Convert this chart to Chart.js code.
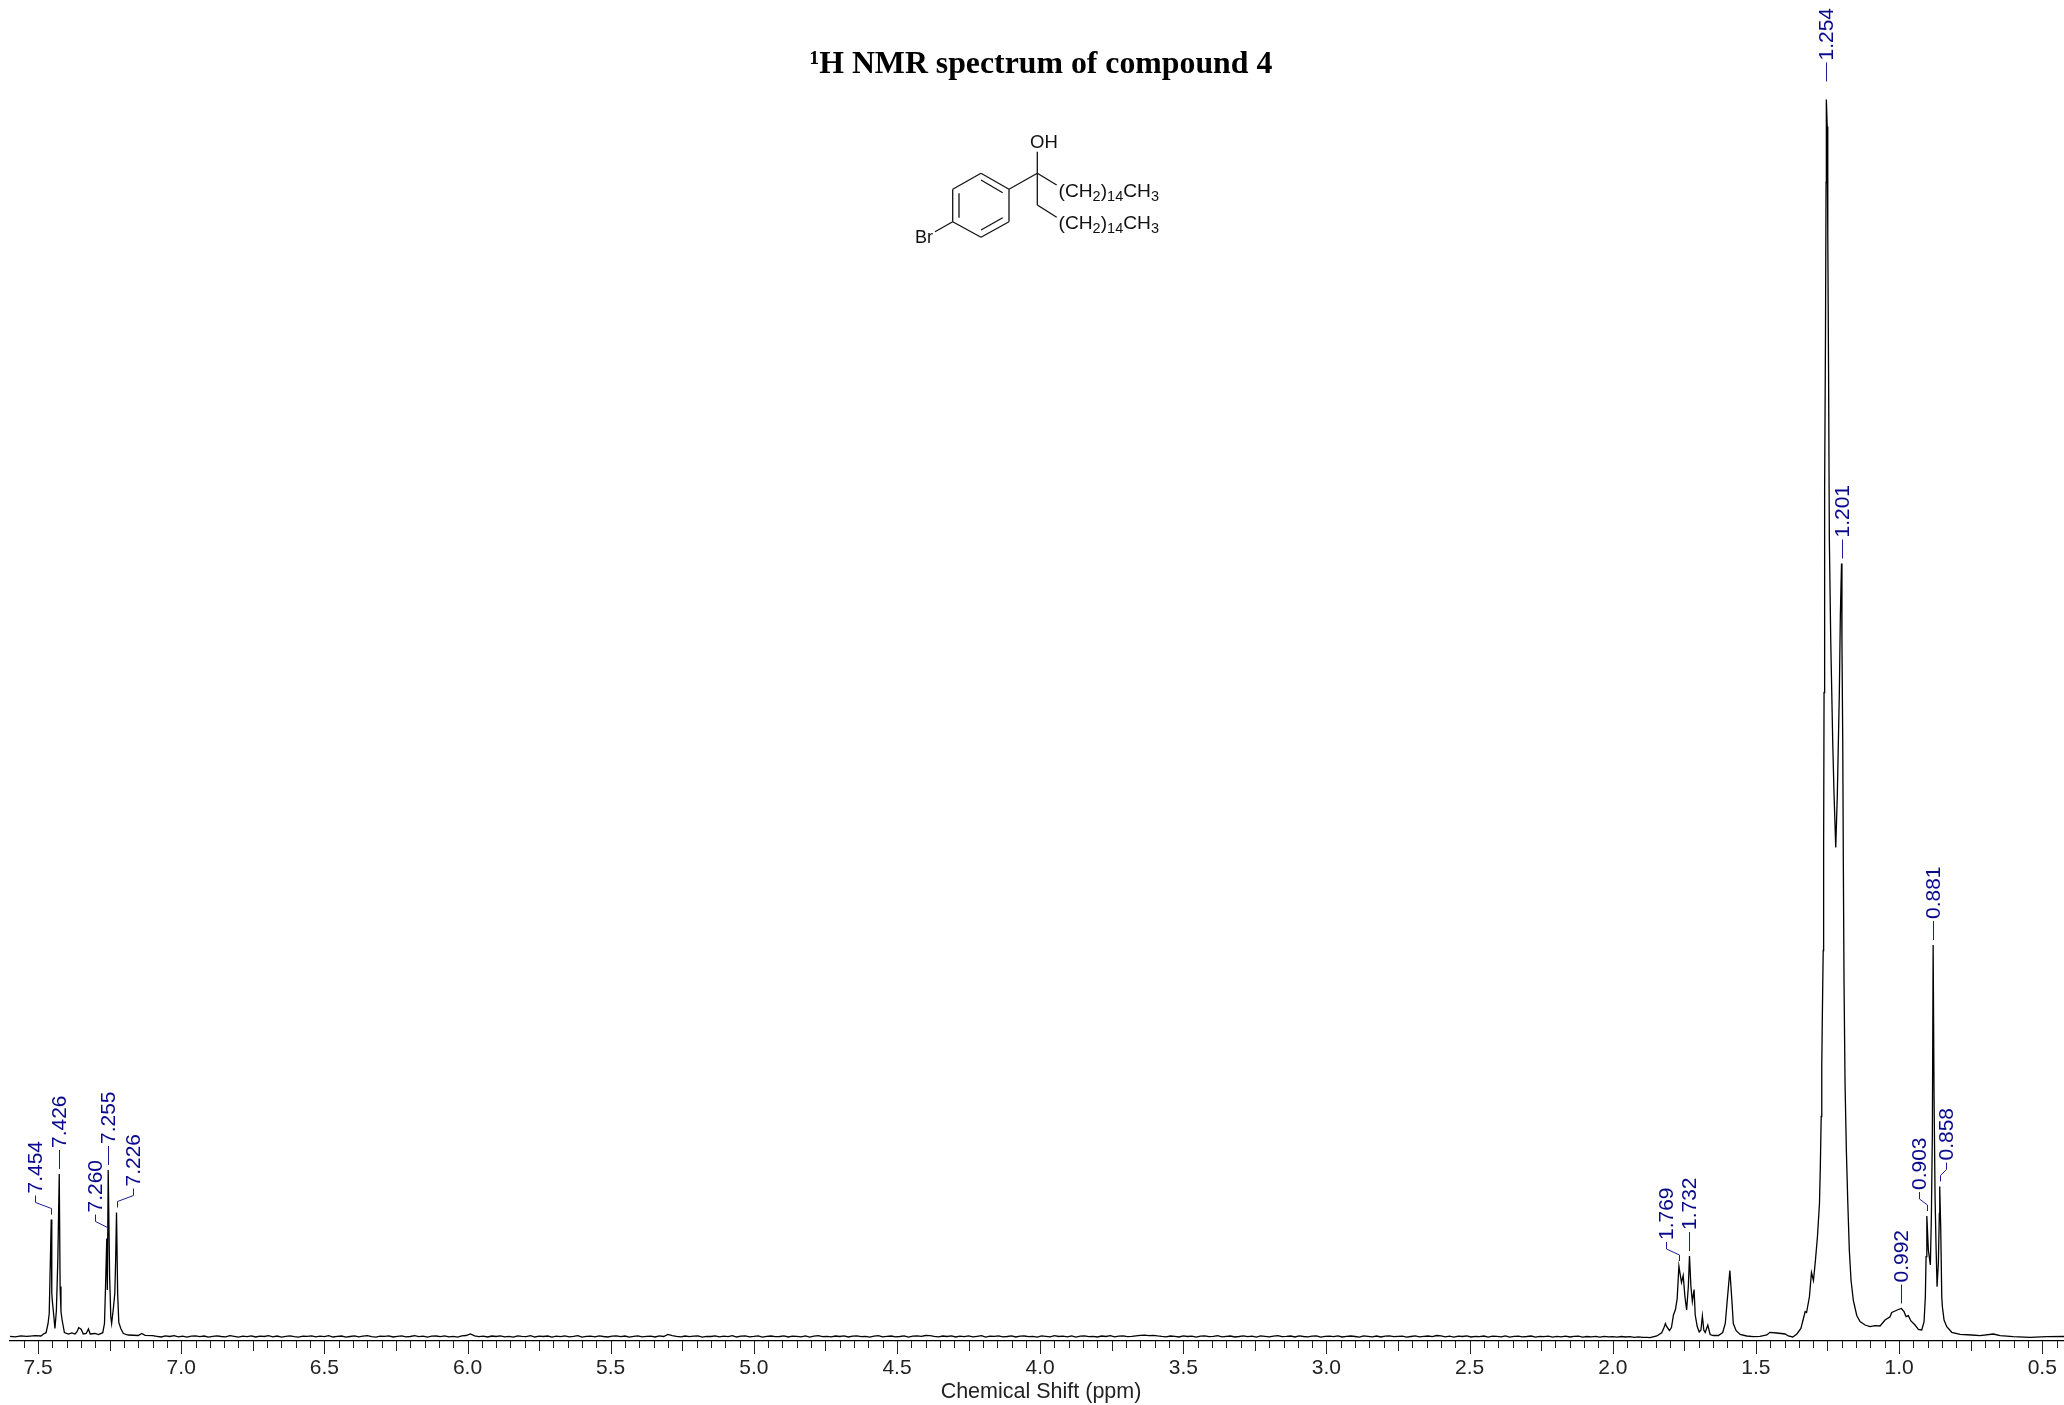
<!DOCTYPE html>
<html>
<head>
<meta charset="utf-8">
<title>1H NMR spectrum of compound 4</title>
<script src="https://cdn.jsdelivr.net/npm/chart.js@4"></script>
<style>
  html, body { margin: 0; padding: 0; background: #fff; overflow: hidden; }
  #wrap { position: relative; width: 2072px; height: 1405px; }
  #structure { position: absolute; left: 0; top: 0; }
  #structure text { font-family: "Liberation Sans", Arial, sans-serif; fill: #111; }
  #structure line { stroke: #111; stroke-width: 1.3; }
</style>
</head>
<body>
<div id="wrap">
  <canvas id="nmrChart" width="2072" height="1405"></canvas>
  <svg id="structure" width="2064" height="300">
    <line x1="981" y1="173.3" x2="1009" y2="189.3"/><line x1="1009" y1="189.3" x2="1009" y2="221.7"/>
    <line x1="1009" y1="221.7" x2="981" y2="237.3"/><line x1="981" y1="237.3" x2="952.7" y2="221.7"/>
    <line x1="952.7" y1="221.7" x2="952.7" y2="189.3"/><line x1="952.7" y1="189.3" x2="981" y2="173.3"/>
    <line x1="981" y1="180" x2="1002.7" y2="192.7"/><line x1="959" y1="193.3" x2="959" y2="217.7"/>
    <line x1="981" y1="230" x2="1002.7" y2="217.7"/>
    <line x1="1009" y1="189.3" x2="1037.3" y2="173.3"/><line x1="1037.3" y1="173.3" x2="1037.3" y2="151.7"/>
    <line x1="1037.3" y1="173.3" x2="1056.7" y2="185"/><line x1="1037.3" y1="173.3" x2="1037.3" y2="205"/>
    <line x1="1037.3" y1="205" x2="1056.7" y2="217.3"/><line x1="952.7" y1="221.7" x2="935" y2="231.7"/>
    <text x="1030" y="148" font-size="18.5">OH</text>
    <text x="915" y="243" font-size="18">Br</text>
    <text x="1058.5" y="197" font-size="19.2">(CH<tspan font-size="14.5" dy="4">2</tspan><tspan dy="-4">)</tspan><tspan font-size="14.5" dy="4">14</tspan><tspan dy="-4">CH</tspan><tspan font-size="14.5" dy="4">3</tspan></text>
    <text x="1058.5" y="229" font-size="19.2">(CH<tspan font-size="14.5" dy="4">2</tspan><tspan dy="-4">)</tspan><tspan font-size="14.5" dy="4">14</tspan><tspan dy="-4">CH</tspan><tspan font-size="14.5" dy="4">3</tspan></text>
  </svg>
</div>
<script>
// chemical shift in ppm, intensity in arbitrary units (tallest peak about 1237)
const aromaticPpm = [7.598, 7.58, 7.56, 7.54, 7.528, 7.51, 7.49, 7.481, 7.472, 7.465, 7.461, 7.454, 7.452, 7.450, 7.447, 7.441, 7.436, 7.431, 7.426, 7.423, 7.420, 7.416, 7.408, 7.394, 7.382, 7.371, 7.364, 7.358, 7.353, 7.349, 7.342, 7.332, 7.324, 7.318, 7.301, 7.289, 7.274, 7.268, 7.265, 7.260, 7.258, 7.255, 7.250, 7.246, 7.243, 7.237, 7.232, 7.229, 7.226, 7.222, 7.218, 7.211, 7.202, 7.185, 7.150, 7.138, 7.126];
const aromaticIntensity = [0.2, -0.3, 0.6, 0.1, 0.4, 0.9, 0.5, 2.5, 3.8, 13, 23, 117, 43, 35, 26.5, 8, 26, 76, 162.5, 50, 25, 16.5, 4, 2.5, 3.5, 2.5, 4.8, 8.8, 8, 7, 2.5, 3, 7.5, 2.5, 3, 2, 3.8, 13, 43, 98, 46.5, 166.5, 60, 20, 13, 28, 43, 76, 124, 43, 14, 8, 3, 1.5, 1, 3, 1.2];

const baselinePpm = [
  7.100, 7.085, 7.070, 7.055, 7.040, 7.025, 7.010, 6.995,
  6.980, 6.965, 6.950, 6.935, 6.920, 6.905, 6.890, 6.875,
  6.860, 6.845, 6.830, 6.815, 6.800, 6.785, 6.770, 6.755,
  6.740, 6.725, 6.710, 6.695, 6.680, 6.665, 6.650, 6.635,
  6.620, 6.605, 6.590, 6.575, 6.560, 6.545, 6.530, 6.515,
  6.500, 6.485, 6.470, 6.455, 6.440, 6.425, 6.410, 6.395,
  6.380, 6.365, 6.350, 6.335, 6.320, 6.305, 6.290, 6.275,
  6.260, 6.245, 6.230, 6.215, 6.200, 6.185, 6.170, 6.155,
  6.140, 6.125, 6.110, 6.095, 6.080, 6.065, 6.050, 6.035,
  6.020, 6.005, 5.990, 5.975, 5.960, 5.945, 5.930, 5.915,
  5.900, 5.885, 5.870, 5.855, 5.840, 5.825, 5.810, 5.795,
  5.780, 5.765, 5.750, 5.735, 5.720, 5.705, 5.690, 5.675,
  5.660, 5.645, 5.630, 5.615, 5.600, 5.585, 5.570, 5.555,
  5.540, 5.525, 5.510, 5.495, 5.480, 5.465, 5.450, 5.435,
  5.420, 5.405, 5.390, 5.375, 5.360, 5.345, 5.330, 5.315,
  5.300, 5.285, 5.270, 5.255, 5.240, 5.225, 5.210, 5.195,
  5.180, 5.165, 5.150, 5.135, 5.120, 5.105, 5.090, 5.075,
  5.060, 5.045, 5.030, 5.015, 5.000, 4.985, 4.970, 4.955,
  4.940, 4.925, 4.910, 4.895, 4.880, 4.865, 4.850, 4.835,
  4.820, 4.805, 4.790, 4.775, 4.760, 4.745, 4.730, 4.715,
  4.700, 4.685, 4.670, 4.655, 4.640, 4.625, 4.610, 4.595,
  4.580, 4.565, 4.550, 4.535, 4.520, 4.505, 4.490, 4.475,
  4.460, 4.445, 4.430, 4.415, 4.400, 4.385, 4.370, 4.355,
  4.340, 4.325, 4.310, 4.295, 4.280, 4.265, 4.250, 4.235,
  4.220, 4.205, 4.190, 4.175, 4.160, 4.145, 4.130, 4.115,
  4.100, 4.085, 4.070, 4.055, 4.040, 4.025, 4.010, 3.995,
  3.980, 3.965, 3.950, 3.935, 3.920, 3.905, 3.890, 3.875,
  3.860, 3.845, 3.830, 3.815, 3.800, 3.785, 3.770, 3.755,
  3.740, 3.725, 3.710, 3.695, 3.680, 3.665, 3.650, 3.635,
  3.620, 3.605, 3.590, 3.575, 3.560, 3.545, 3.530, 3.515,
  3.500, 3.485, 3.470, 3.455, 3.440, 3.425, 3.410, 3.395,
  3.380, 3.365, 3.350, 3.335, 3.320, 3.305, 3.290, 3.275,
  3.260, 3.245, 3.230, 3.215, 3.200, 3.185, 3.170, 3.155,
  3.140, 3.125, 3.110, 3.095, 3.080, 3.065, 3.050, 3.035,
  3.020, 3.005, 2.990, 2.975, 2.960, 2.945, 2.930, 2.915,
  2.900, 2.885, 2.870, 2.855, 2.840, 2.825, 2.810, 2.795,
  2.780, 2.765, 2.750, 2.735, 2.720, 2.705, 2.690, 2.675,
  2.660, 2.645, 2.630, 2.615, 2.600, 2.585, 2.570, 2.555,
  2.540, 2.525, 2.510, 2.495, 2.480, 2.465, 2.450, 2.435,
  2.420, 2.405, 2.390, 2.375, 2.360, 2.345, 2.330, 2.315,
  2.300, 2.285, 2.270, 2.255, 2.240, 2.225, 2.210, 2.195,
  2.180, 2.165, 2.150, 2.135, 2.120, 2.105, 2.090, 2.075,
  2.060, 2.045, 2.030, 2.015, 2.000, 1.985, 1.970, 1.955,
  1.940, 1.925, 1.910, 1.895, 1.880
];
const baselineIntensity = [
  0.9, 0.2, -0.5, 0.6, 0.0, 0.8, -0.3, 0.4,
  -0.6, 0.3, 0.7, -0.2, 0.5, -0.7, 0.1, 0.6,
  0.0, -0.4, 0.8, 0.2, -0.6, 0.4, -0.1, 0.7,
  -0.5, 0.3, 0.0, 0.8, -0.3, 0.5, -0.7, 0.2,
  0.6, -0.2, -0.6, 0.4, 0.1, 0.7, -0.4, 0.3,
  -0.1, 0.8, -0.5, 0.2, 0.5, -0.7, 0.0, 0.6,
  -0.3, 0.4, 0.9, -0.2, -0.6, 0.3, 0.1, 0.7,
  -0.5, 0.2, 0.6, -0.4, 0.0, 0.8, -0.2, 0.4,
  -0.7, 0.3, 0.5, -0.1, 0.7, -0.4, 0.2, -0.6,
  0.6, 1.0, 2.6, 0.7, -0.2, 0.3, -0.5, 0.5,
  0.0, 0.7, -0.4, 0.2, -0.6, 0.6, 0.1, -0.2,
  0.8, -0.5, 0.3, 0.0, 0.5, -0.7, 0.4, -0.1,
  0.6, -0.3, 0.2, 0.8, -0.6, 0.1, 0.4, -0.4,
  0.7, 0.0, -0.5, 0.3, 0.6, -0.2, 0.5, -0.6,
  0.2, 0.7, -0.3, 0.1, 0.4, -0.5, 0.6, 0.0,
  2.1, 0.8, 0.1, -0.4, 0.5, -0.2, 0.3, 0.7,
  -0.6, 0.2, 0.0, 0.6, -0.4, 0.4, -0.1, 0.8,
  -0.5, 0.3, 0.6, -0.3, 0.1, 0.7, -0.6, 0.2,
  0.5, -0.2, 0.0, 0.7, -0.5, 0.4, 0.1, -0.3,
  0.6, -0.6, 0.3, 0.8, -0.1, 0.2, -0.4, 0.5,
  0.0, 0.6, -0.5, 0.3, 0.7, -0.2, 0.1, -0.6,
  0.4, 0.8, -0.3, 0.2, 0.5, -0.4, 0.0, 0.6,
  -0.7, 0.3, 0.7, 0.2, 1.0, 0.9, 0.2, -0.3,
  0.5, 0.0, 0.7, -0.5, 0.3, -0.1, 0.6, -0.4,
  0.2, 0.8, -0.6, 0.4, 0.1, 0.6, -0.3, 0.0,
  0.7, -0.5, 0.3, 0.5, -0.2, 0.1, -0.6, 0.6,
  0.2, -0.4, 0.8, 0.0, 0.4, -0.3, 0.6, -0.6,
  0.3, 0.7, -0.1, 0.2, -0.5, 0.5, 0.0, 0.8,
  -0.4, 0.3, 0.6, -0.2, 0.1, 0.7, 1.1, 1.4,
  0.9, 1.2, 0.6, 0.1, -0.3, 0.5, 0.2, -0.5,
  0.7, 0.0, 0.4, -0.6, 0.3, 0.6, -0.2, 0.1,
  0.8, -0.4, 0.2, 0.5, -0.5, 0.0, 0.7, -0.1,
  0.3, -0.6, 0.6, 0.2, -0.3, 0.4, 0.8, -0.2,
  0.1, 0.5, -0.5, 0.7, 0.0, -0.4, 0.3, 0.6,
  -0.6, 0.2, 0.4, -0.1, 0.7, -0.5, 0.1, 0.5,
  0.0, -0.6, 0.6, 0.2, -0.3, 0.5, -0.5, 0.3,
  0.7, -0.2, 0.1, 0.4, -0.6, 0.0, 0.6, -0.4,
  0.2, 0.5, -0.1, 1.0, 0.6, -0.3, 0.3, -0.6,
  0.4, 0.0, 0.6, -0.5, 0.2, -0.2, 0.5, -0.7,
  0.3, 0.1, -0.4, 0.6, -0.6, 0.2, 0.4, -0.3,
  0.0, 0.5, -0.6, 0.1, -0.2, 0.4, -0.7, 0.2,
  -0.3, 0.3, -0.5, 0.1, 0.4, -0.6, 0.0, -0.3,
  0.2, -0.6, 0.1, -0.4, -0.1, -0.7, 0.0, -0.5,
  -0.2, -0.8, -0.3, -0.9, -0.8
];

const alkylPpm = [1.870, 1.846, 1.829, 1.821, 1.816, 1.812, 1.802, 1.795, 1.788, 1.781, 1.775, 1.769, 1.765, 1.760, 1.754, 1.748, 1.742, 1.736, 1.732, 1.727, 1.722, 1.716, 1.712, 1.705, 1.698, 1.692, 1.687, 1.682, 1.677, 1.668, 1.660, 1.649, 1.631, 1.616, 1.607, 1.600, 1.591, 1.584, 1.579, 1.569, 1.555, 1.532, 1.509, 1.486, 1.462, 1.451, 1.427, 1.398, 1.387, 1.371, 1.357, 1.343, 1.334, 1.328, 1.323, 1.313, 1.306, 1.299, 1.292, 1.285, 1.278, 1.275, 1.272, 1.270, 1.268, 1.265, 1.264, 1.263, 1.262, 1.260, 1.257, 1.255, 1.254, 1.251, 1.249, 1.246, 1.2435, 1.2386, 1.2316, 1.2271, 1.2212, 1.2156, 1.2086, 1.2051, 1.201, 1.1995, 1.1967, 1.1946, 1.1922, 1.1887, 1.1841, 1.1793, 1.1737, 1.1677, 1.1597, 1.1478, 1.1363, 1.1188, 1.1014, 1.0839, 1.0664, 1.049, 1.0315, 1.0256, 1.014, 1.0025, 0.992, 0.9826, 0.9756, 0.9676, 0.9592, 0.9442, 0.9326, 0.9208, 0.9127, 0.9082, 0.9057, 0.903, 0.8977, 0.8907, 0.8872, 0.8837, 0.881, 0.8778, 0.8743, 0.8708, 0.8673, 0.8628, 0.8593, 0.858, 0.8544, 0.8509, 0.8488, 0.8429, 0.8334, 0.816, 0.787, 0.746, 0.717, 0.671, 0.647, 0.601, 0.5425, 0.484, 0.424, 0.396];
const alkylIntensity = [-1.2, 0.5, 3.8, 9, 13, 10, 6, 9, 21.5, 27, 38, 70.5, 63, 54, 61, 40, 26.5, 50, 80.5, 50, 35, 47, 21.5, 10, 4.5, 6.5, 20.5, 6.5, 4, 11.5, 2, 1, 1, 4, 13, 36.5, 66, 36.5, 13, 5.8, 2, 0.5, -0.2, 0.2, 1.5, 4.2, 3.5, 2.5, 0.5, -0.5, 2.5, 8, 18, 25, 24, 40, 64, 56, 76.5, 100, 133, 170, 220, 270, 320, 386, 436, 486, 644, 848, 1001, 1154, 1237, 1210, 1103, 950, 797, 695, 593, 542, 489, 542, 644, 721, 773, 695, 593, 470, 353, 253, 186, 136, 86, 56, 36, 21, 15, 11.5, 9.8, 10.8, 10.5, 16.5, 19.8, 24, 25.5, 27, 28, 24.8, 19.8, 20.8, 15.8, 11.5, 7.2, 6.5, 14.8, 39.8, 79.8, 120.5, 86.5, 71.5, 119.8, 203, 391.5, 239.8, 139.8, 89.8, 49.8, 73, 123, 150, 106.5, 39.8, 30, 16.5, 9.8, 4.2, 2.2, 1.5, 0.8, 2.5, 0.8, -0.2, -0.8, -0.2, 0.2, 0];

const peakLabels = ["7.454", "7.426", "7.260", "7.255", "7.226", "1.769", "1.732", "1.254", "1.201", "0.992", "0.903", "0.881", "0.858"];
const majorTickLabels = ["7.5", "7.0", "6.5", "6.0", "5.5", "5.0", "4.5", "4.0", "3.5", "3.0", "2.5", "2.0", "1.5", "1.0", "0.5"];

// how far each peak label sits sideways from its peak, px
const labelShift = [-16, 0, -12, 0, 16, -13, 0, 0, 0, 0, -8, 0, 6];

const ppmValues = aromaticPpm.concat(baselinePpm, alkylPpm);
const intensityValues = aromaticIntensity.concat(baselineIntensity, alkylIntensity);

const labelFont = '"Liberation Sans", Arial, sans-serif';

const peakPickPlugin = {
  id: "peakPick",
  afterDraw(chart) {
    const ctx = chart.ctx;
    const xs = chart.scales.x;
    const ys = chart.scales.y;
    ctx.save();
    ctx.lineWidth = 1;

    // tick marks: 0.05 short, 0.25 medium, 0.5 long
    ctx.strokeStyle = "#222";
    const bottom = chart.chartArea.bottom;
    xs.ticks.forEach(t => {
      const n = Math.round(t.value * 20);
      const len = n % 10 === 0 ? 13 : n % 5 === 0 ? 10 : 7;
      const px = Math.round(xs.getPixelForValue(t.value)) + 0.5;
      ctx.beginPath();
      ctx.moveTo(px, bottom);
      ctx.lineTo(px, bottom + len);
      ctx.stroke();
    });

    ctx.font = "21px " + labelFont;
    ctx.textBaseline = "middle";
    ctx.textAlign = "left";
    peakLabels.forEach((label, i) => {
      const ppm = parseFloat(label);
      const idx = ppmValues.indexOf(ppm);
      const px = Math.round(xs.getPixelForValue(ppm)) + 0.5;
      const top = ys.getPixelForValue(intensityValues[idx]);
      const tip = top - (label === "1.254" ? 18 : 5);
      const dx = labelShift[i];
      ctx.strokeStyle = "#1c1c96";
      ctx.beginPath();
      ctx.moveTo(px, tip);
      if (dx !== 0) {
        ctx.lineTo(px, tip - 6);
        ctx.lineTo(px + dx, tip - 12);
      }
      ctx.lineTo(px + dx, tip - 19);
      ctx.stroke();
      ctx.save();
      ctx.translate(px + dx + 1, tip - 21);
      ctx.rotate(-Math.PI / 2);
      ctx.fillStyle = "#0a0a8c";
      ctx.fillText(label, 0, 0);
      ctx.restore();
    });
    ctx.restore();
  }
};

new Chart(document.getElementById("nmrChart"), {
  type: "line",
  data: {
    datasets: [{
      label: "1H NMR",
      data: ppmValues.map((x, i) => ({ x: x, y: intensityValues[i] })),
      borderColor: "#000",
      borderWidth: 1.3,
      pointRadius: 0,
      tension: 0,
      fill: false
    }]
  },
  options: {
    responsive: false,
    animation: false,
    devicePixelRatio: 1,
    layout: { padding: { left: 10, right: 0, top: 0, bottom: 0 } },
    plugins: {
      legend: { display: false },
      tooltip: { enabled: false },
      title: {
        display: true,
        text: "\u00B9H NMR spectrum of compound 4",
        color: "#000",
        font: { family: '"Liberation Serif", "Times New Roman", serif', size: 31.8, weight: "bold", lineHeight: 1.2 },
        padding: { top: 45.5, bottom: 6.34 }
      }
    },
    scales: {
      x: {
        type: "linear",
        reverse: true,
        min: 0.396,
        max: 7.598,
        afterBuildTicks(scale) {
          const ticks = [];
          for (let n = 151; n >= 8; n--) ticks.push({ value: n * 0.05 });
          scale.ticks = ticks;
        },
        afterFit(scale) { scale.height = 64; },
        ticks: {
          autoSkip: false,
          maxRotation: 0,
          minRotation: 0,
          padding: 0,
          color: "#222",
          font: { family: labelFont, size: 21 },
          callback(value) {
            const n = Math.round(value * 20);
            if (n % 10 !== 0) return "";
            return majorTickLabels[15 - n / 10];
          }
        },
        // real tick marks are stroked by peakPick at three lengths; this only spaces the labels
        grid: { drawOnChartArea: false, drawTicks: true, tickLength: 15, tickColor: "transparent" },
        border: { display: true, color: "#000", width: 1.2 },
        title: {
          display: true,
          text: "Chemical Shift (ppm)",
          color: "#222",
          font: { family: labelFont, size: 21.5 },
          padding: { top: 0, bottom: 0 }
        }
      },
      y: {
        display: false,
        min: -4.5,
        max: 1246.5
      }
    }
  },
  plugins: [peakPickPlugin]
});
</script>
</body>
</html>
